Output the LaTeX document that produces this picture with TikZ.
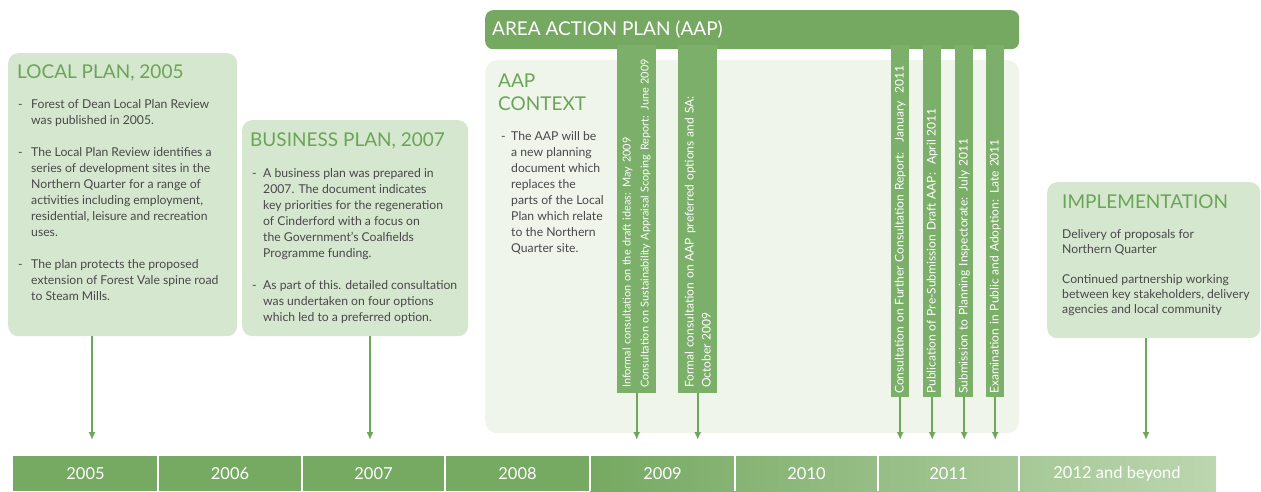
\documentclass[tikz,border=0pt]{standalone}
\usepackage{fontspec}
\setmainfont{Lato}
\usetikzlibrary{arrows.meta}

\definecolor{panelgreen}{HTML}{D6E7CF}
\definecolor{ctxgreen}{HTML}{EFF5EB}
\definecolor{hdrgreen}{HTML}{75A962}
\definecolor{bargreen}{HTML}{7CB06A}
\definecolor{titlegreen}{HTML}{6AA555}
\definecolor{bodygray}{HTML}{484848}
\definecolor{arrgreen}{HTML}{6EA75B}
\definecolor{tlgreen}{HTML}{76A962}
\definecolor{tllight}{HTML}{BCD6AF}

\begin{document}
\begin{tikzpicture}[x=1pt,y=-1pt,
    panel/.style={fill=panelgreen, rounded corners=10pt, anchor=north west, inner sep=0pt},
    paneltitle/.style={text=titlegreen, font=\fontsize{19}{23}\selectfont, anchor=base west, inner sep=0pt},
    bodytxt/.style={text=bodygray, font=\fontsize{12.2}{16}\selectfont, anchor=north west, inner sep=0pt},
    evbar/.style={fill=bargreen, rotate=90, anchor=north west, text=white, align=left, inner ysep=0pt},
    yearlbl/.style={text=white, font=\fontsize{16.5}{18}\selectfont, inner sep=0pt},
    arr/.style={draw=arrgreen, line width=1.8pt, -{Latex[length=8pt,width=7pt]}}]
    \useasboundingbox (0,0) rectangle (1261,491);

    % local plan
    \node[panel, minimum width=229pt, minimum height=283pt] (localplan) at (8,53) {};
    \node[paneltitle] (lptitle) at (17,78) {LOCAL PLAN, 2005};
    \node[bodytxt] (lpbody) at (18,97) {\begin{tabular}{@{}p{13pt}@{}l@{}}
        - & Forest of Dean Local Plan Review\\
          & was published in 2005.\\ \\
        - & The Local Plan Review identifies a\\
          & series of development sites in the\\
          & Northern Quarter for a range of\\
          & activities including employment,\\
          & residential, leisure and recreation\\
          & uses.\\ \\
        - & The plan protects the proposed\\
          & extension of Forest Vale spine road\\
          & to Steam Mills.
        \end{tabular}};

    % business plan
    \node[panel, minimum width=226pt, minimum height=216pt] (bizplan) at (242,120) {};
    \node[paneltitle] (bptitle) at (250,146) {BUSINESS PLAN, 2007};
    \node[bodytxt] (bpbody) at (252,166) {\begin{tabular}{@{}p{11pt}@{}l@{}}
        - & A business plan was prepared in\\
          & 2007. The document indicates\\
          & key priorities for the regeneration\\
          & of Cinderford with a focus on\\
          & the Government’s Coalfields\\
          & Programme funding.\\ \\
        - & As part of this. detailed consultation\\
          & was undertaken on four options\\
          & which led to a preferred option.
        \end{tabular}};

    % area action plan
    \node[panel, fill=ctxgreen, rounded corners=12pt, minimum width=534pt, minimum height=373pt] (aapctx) at (485,60) {};
    \node[panel, fill=hdrgreen, rounded corners=8pt, minimum width=534pt, minimum height=39pt] (aaphdr) at (485,10) {};
    \node[paneltitle, text=white] (hdrtitle) at (492,35) {AREA ACTION PLAN (AAP)};
    \node[paneltitle] (ctxtitle1) at (498,87) {AAP};
    \node[paneltitle] (ctxtitle2) at (498,110) {CONTEXT};
    \node[bodytxt] (ctxbody) at (501,129) {\begin{tabular}{@{}p{10pt}@{}l@{}}
        - & The AAP will be\\
          & a new planning\\
          & document which\\
          & replaces the\\
          & parts of the Local\\
          & Plan which relate\\
          & to the Northern\\
          & Quarter site.
        \end{tabular}};

    % milestones
    \node[evbar, minimum width=348pt, minimum height=39pt, text width=338pt, inner xsep=5pt,
        font=\fontsize{10.9}{18}\selectfont] (ev1) at (617,393)
        {Informal consultation on the draft ideas: May 2009\\Consultation on Sustainability Appraisal Scoping Report: June 2009};
    \node[evbar, minimum width=348pt, minimum height=39pt, text width=338pt, inner xsep=5pt,
        font=\fontsize{12}{17}\selectfont] (ev2) at (678,393)
        {Formal consultation on AAP preferred options and SA:\\October 2009};
    \node[evbar, minimum width=352pt, minimum height=18pt, text width=346pt, inner xsep=3pt,
        font=\fontsize{12}{14}\selectfont] (ev3) at (891,397)
        {Consultation on Further Consultation Report:~ January~ 2011};
    \node[evbar, minimum width=352pt, minimum height=18pt, text width=346pt, inner xsep=3pt,
        font=\fontsize{12}{14}\selectfont] (ev4) at (923,397)
        {Publication of Pre-Submission Draft AAP:~ April 2011};
    \node[evbar, minimum width=352pt, minimum height=18pt, text width=346pt, inner xsep=3pt,
        font=\fontsize{12}{14}\selectfont] (ev5) at (955,397)
        {Submission to Planning Inspectorate: July 2011};
    \node[evbar, minimum width=352pt, minimum height=18pt, text width=346pt, inner xsep=3pt,
        font=\fontsize{12}{14}\selectfont] (ev6) at (986,397)
        {Examination in Public and Adoption: Late 2011};

    % implementation
    \node[panel, minimum width=213pt, minimum height=156pt] (impl) at (1047,182) {};
    \node[paneltitle] (imptitle) at (1062,208) {IMPLEMENTATION};
    \node[bodytxt, font=\fontsize{12.2}{15}\selectfont] (impbody) at (1062,228) {\begin{tabular}{@{}l@{}}
        Delivery of proposals for\\
        Northern Quarter\\ \\
        Continued partnership working\\
        between key stakeholders, delivery\\
        agencies and local community
        \end{tabular}};

    % time line
    \fill[tlgreen] (13,456) rectangle (590,491);
    \shade[left color=tlgreen, right color=tllight] (590,456) rectangle (1216,491);
    \foreach \x in {158,302,445,590,735,878,1019}
        \draw[white, line width=2pt] (\x,455) -- (\x,491);
    \foreach \yr/\cx in {2005/85.5,2006/230,2007/373.5,2008/517.5,2009/662.5,2010/806.5,2011/948.5}
        \node[yearlbl] (y\yr) at (\cx,474) {\yr};
    \node[yearlbl] (y2012) at (1117,474) {2012 and beyond};

    % arrows down to the years
    \coordinate (a2005) at (92,440);
    \coordinate (a2007) at (370,440);
    \coordinate (a2012) at (1146,440);
    \draw[arr] (localplan.south -| a2005) -- (a2005);
    \draw[arr] (bizplan.south -| a2007) -- (a2007);
    \draw[arr] (impl.south -| a2012) -- (a2012);
    \draw[arr] (ev1.west) -- ++(0,47);
    \draw[arr] (ev2.west) -- ++(0,47);
    \foreach \ev in {ev3,ev4,ev5,ev6}
        \draw[arr] (\ev.west) -- ++(0,43);
\end{tikzpicture}
\end{document}
